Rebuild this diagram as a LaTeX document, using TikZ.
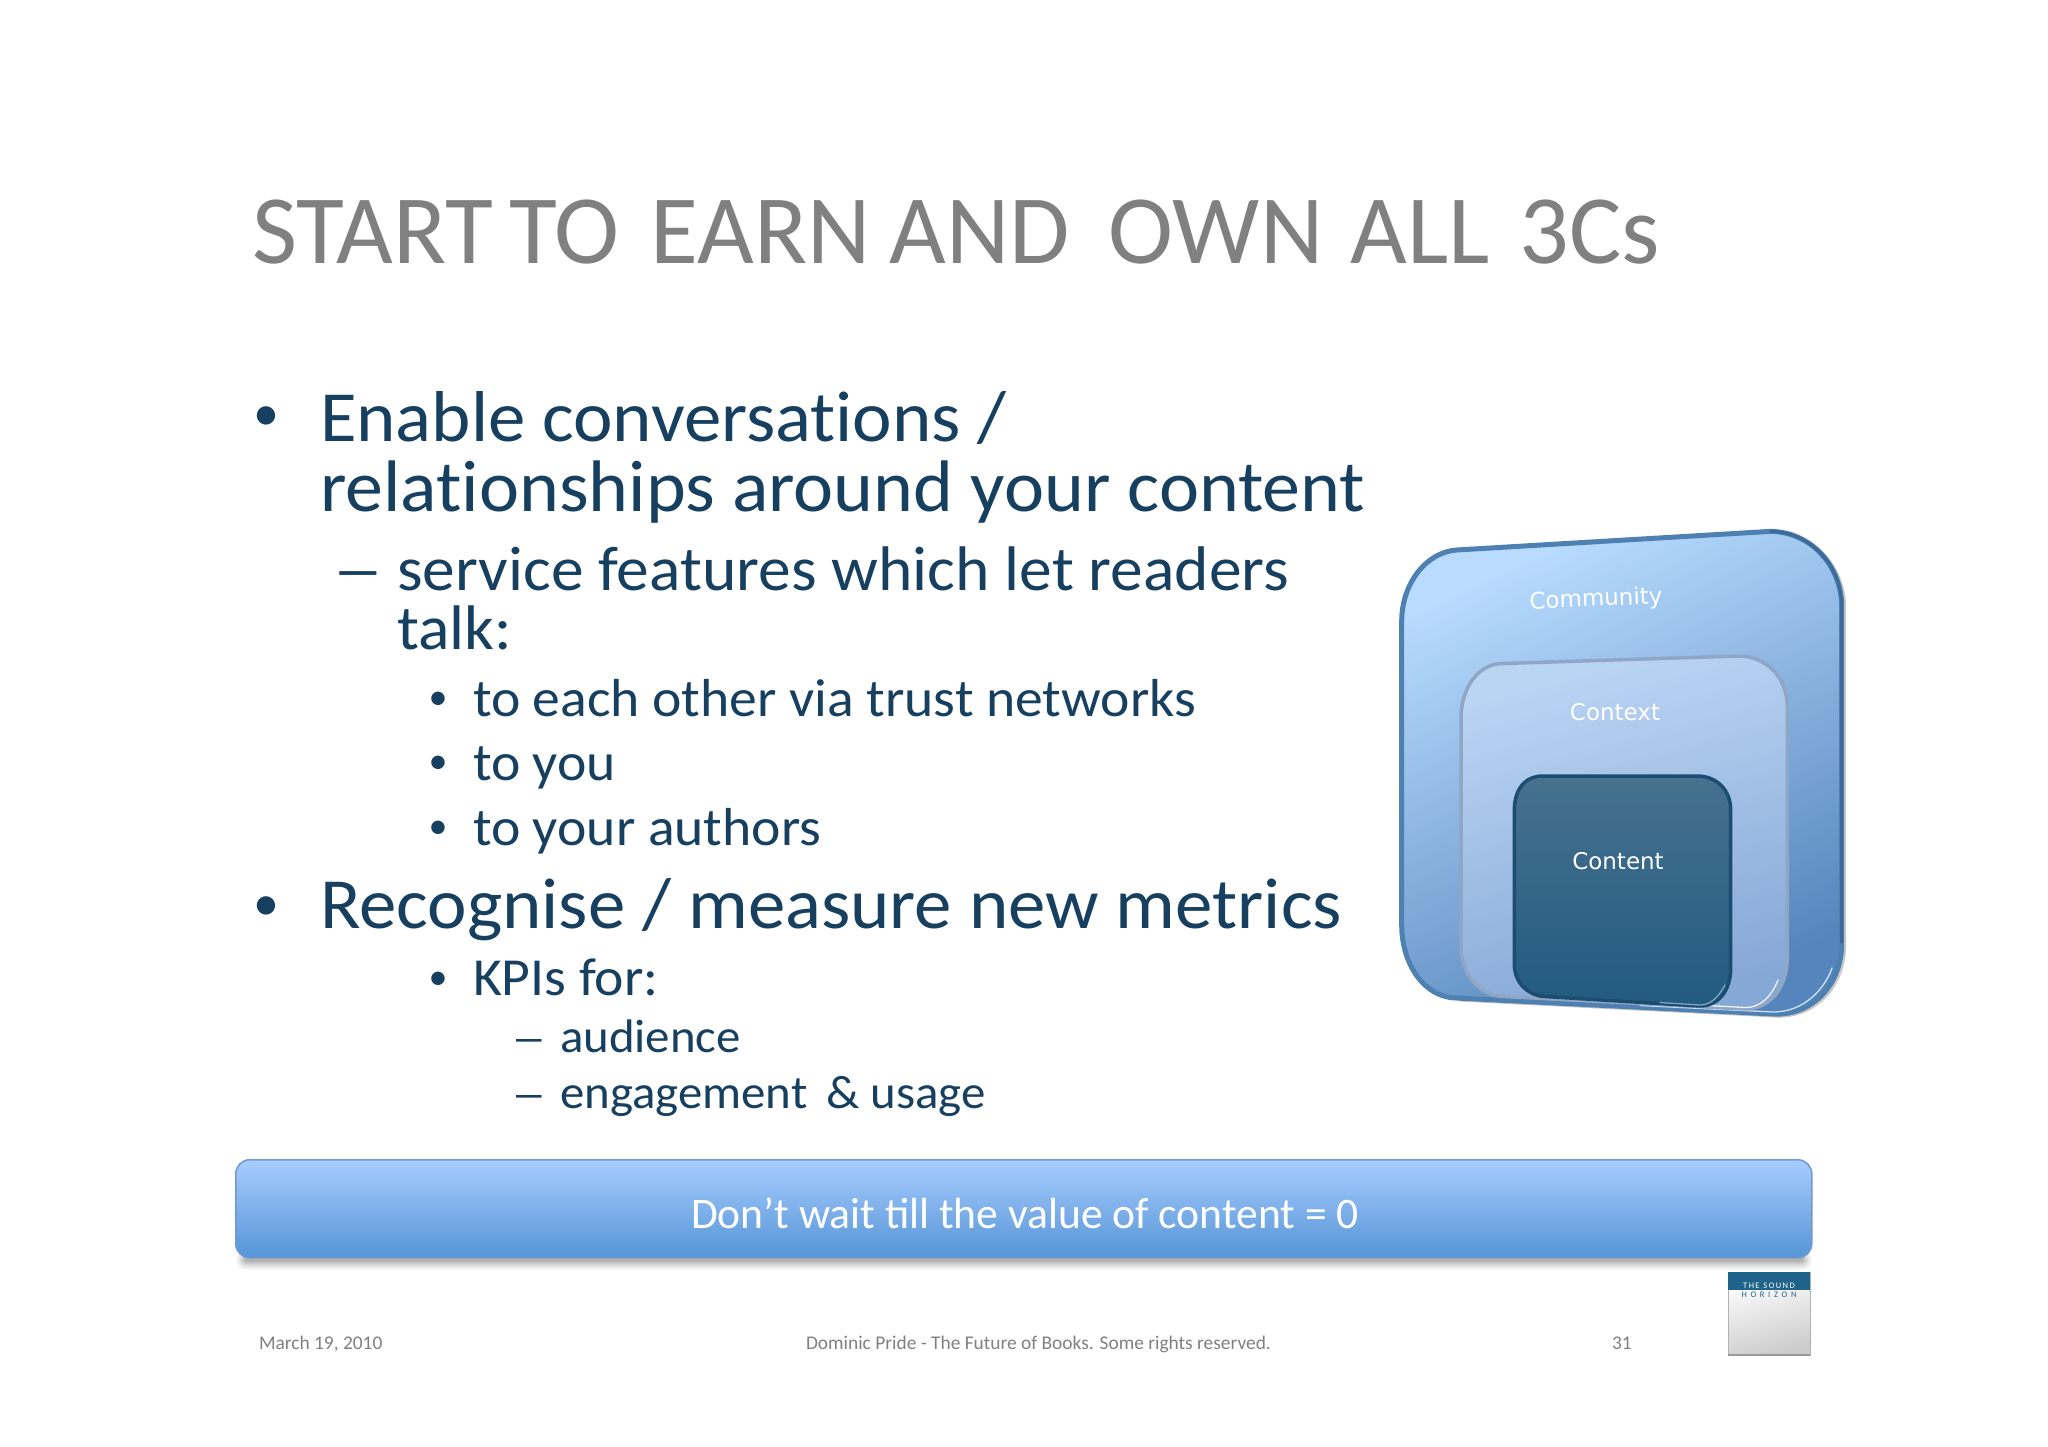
\documentclass[tikz,border=0pt]{standalone}
\usepackage{fontspec}
\setmainfont{Carlito}
\newfontfamily\labelfont{DejaVu Sans}
\newfontfamily\bodyfont[FakeStretch=1.04,Ligatures=CommonOff]{Carlito}
\newfontfamily\dashfont[FakeStretch=1.7]{Carlito}
\definecolor{bodyc}{HTML}{173F5F}
\definecolor{titlec}{HTML}{808080}
\definecolor{footc}{HTML}{808080}
\definecolor{ca}{HTML}{B8DBFE}\definecolor{cb}{HTML}{5585BC}
\definecolor{cc}{HTML}{BAD4F4}\definecolor{cd}{HTML}{86A8D6}
\definecolor{ce}{HTML}{46718F}\definecolor{cf}{HTML}{225A80}
\definecolor{ba}{HTML}{A8CCFF}\definecolor{bb}{HTML}{5595D6}
\definecolor{logoc}{HTML}{1F6488}
\definecolor{rimA}{HTML}{4F80B2}
\definecolor{rimAd}{HTML}{3C6A98}
\definecolor{rimB}{HTML}{8FA6C6}
\definecolor{rimC}{HTML}{1C4C70}
\definecolor{glow}{HTML}{CBE4FB}
\newcommand{\fs}[1]{\fontsize{#1}{#1}\selectfont}
\newcommand{\ringA}{(1401.7,621) .. controls (1401.7,584) and (1426,552) .. (1456.7,550) -- (1770,531.4)
  .. controls (1810,531.4) and (1841.7,565) .. (1841.7,607) -- (1841.7,943)
  .. controls (1841.7,985) and (1812,1016) .. (1773,1014) -- (1456.7,998)
  .. controls (1425,998) and (1401.7,965) .. (1401.7,925) -- cycle}
\newcommand{\ringB}{(1461,718) .. controls (1461,688) and (1478,665) .. (1500,663.6) -- (1738.3,656)
  .. controls (1766,656) and (1787.3,677) .. (1787.3,707) -- (1787.3,957)
  .. controls (1787.3,988) and (1770,1009) .. (1745,1009) -- (1503.3,996.4)
  .. controls (1480,996) and (1461,975) .. (1461,946) -- cycle}
\newcommand{\ringC}{(1514.3,810.7) .. controls (1514.3,789) and (1525,776) .. (1543.3,776) -- (1696.7,776)
  .. controls (1716,776) and (1730.7,789) .. (1730.7,810.7) -- (1730.7,968)
  .. controls (1730.7,991) and (1718,1006) .. (1700,1006) -- (1543.3,996.4)
  .. controls (1527,995) and (1514.3,982) .. (1514.3,964) -- cycle}
\tikzset{
  x=1pt,y=-1pt,
  txt/.style={inner sep=0pt,outer sep=0pt,anchor=base west,text=bodyc},
  lva/.style={txt,font=\bodyfont\fs{73}},
  lvas/.style={txt,font=\bodyfont\fs{72}},
  lvb/.style={txt,font=\bodyfont\fs{63}},
  lvc/.style={txt,font=\bodyfont\fs{53.5}},
  lvd/.style={txt,font=\bodyfont\fs{47}},
  bula/.style={txt,font=\fs{52}},
  bulc/.style={txt,font=\fs{38}},
  dasha/.style={txt,font=\dashfont\fs{61}},
  dashb/.style={txt,font=\dashfont\fs{42}},
  foot/.style={inner sep=0pt,outer sep=0pt,anchor=base west,text=footc,font=\fs{19.4}},
  ringtxt/.style={inner sep=0pt,outer sep=0pt,anchor=center,text=white,font=\labelfont\fs{23}},
  logotxt/.style={inner sep=0pt,font=\fs{8.5}},
}
\begin{document}
\begin{tikzpicture}
\useasboundingbox (0,0) rectangle (2048,1447);
\fill[white] (0,0) rectangle (2048,1447);
% title
\node[inner sep=0pt,anchor=base west,text=titlec,font=\fs{98}] (title) at (252,264) {START\hspace*{16pt}TO\hspace*{31.5pt}EARN\hspace*{19pt}AND\hspace*{39pt}OWN\hspace*{27pt}ALL\hspace*{30pt}3Cs};
% body
\node[bula] (b1) at (253.5,430) {•};
\node[lvas] (t1) at (320,441) {Enable conversations /};
\node[lva] (t2) at (320,511) {relationships around your content};
\node[dasha] (d1) at (332,590) {–};
\node[lvb] (t3) at (397,590) {service features which let readers};
\node[lvb] (t4) at (397,649) {talk:};
\node[bulc] (b2) at (428.7,709.8) {•};
\node[lvc] (t5) at (473,716) {to each other via trust networks};
\node[bulc] (b3) at (428.7,773.8) {•};
\node[lvc] (t6) at (473,780) {to you};
\node[bulc] (b4) at (428.7,838.8) {•};
\node[lvc] (t7) at (473,845) {to your authors};
\node[bula] (b5) at (253.5,920.4) {•};
\node[lvas] (t8) at (320,928) {Recognise / measure new metrics};
\node[bulc] (b6) at (428.7,989.8) {•};
\node[lvc] (t9) at (473,995) {KPIs for:};
\node[dashb] (d2) at (511.5,1052) {–};
\node[lvd] (t10) at (560,1052) {audience};
\node[dashb] (d3) at (511.5,1108) {–};
\node[lvd] (t11) at (560,1108) {engagement \,\& usage};
% rings
\draw[line width=4pt,black!22] ([shift={(2.5,1.5)}]1770,531.4) .. controls ([shift={(2.5,1.5)}]1810,531.4) and ([shift={(2.5,1.5)}]1841.7,565) .. ([shift={(2.5,1.5)}]1841.7,607) -- ([shift={(2.5,1.5)}]1841.7,943) .. controls ([shift={(2.5,1.5)}]1841.7,985) and ([shift={(2.5,1.5)}]1812,1016) .. ([shift={(2.5,1.5)}]1773,1014) -- ([shift={(2.5,1.5)}]1456.7,998);
\shade[top color=ca,bottom color=cb,shading angle=25] \ringA;
\draw[line width=5pt,color=rimA] \ringA;
\draw[line width=3pt,color=rimAd] (1770,531.4) .. controls (1810,531.4) and (1841.7,565) .. (1841.7,607) -- (1841.7,943);
\draw[line width=1.3pt,line cap=round,color=glow] (1832,968) .. controls (1825,988) and (1805,1012) .. (1773,1012) -- (1640,1005.5);
\shade[top color=cc,bottom color=cd,shading angle=15] \ringB;
\draw[line width=3.5pt,color=rimB] \ringB;
\draw[line width=1.3pt,line cap=round,color=white!75!cc] (1778,980) .. controls (1772,995) and (1762,1007.5) .. (1745,1007.5) -- (1680,1004);
\shade[top color=ce,bottom color=cf] \ringC;
\draw[line width=3.5pt,color=rimC] \ringC;
\draw[line width=1.3pt,line cap=round,color=glow!55!cf] (1725,985) .. controls (1718,998) and (1710,1005) .. (1700,1005) -- (1660,1002.5);
\node[ringtxt,rotate=2.5] (community) at (1596,600) {Community};
\node[ringtxt] (context) at (1615,712) {Context};
\node[ringtxt] (content) at (1618,861) {Content};
% bar
\foreach \o/\w in {0.04/20,0.05/16,0.06/12,0.08/8,0.10/4}
  \draw[line width=\w pt,color=black,opacity=\o,line join=round] (248,1256) -- (1800,1256) -- (1802,1260) -- (246,1260) -- cycle;
\node[draw=ba!30!cb,line width=1.5pt,rounded corners=14pt,top color=ba,bottom color=bb,minimum width=1576pt,minimum height=98pt,inner sep=0pt,anchor=north west] (bar) at (235,1159) {};
\node[inner sep=0pt,anchor=base,text=white,font=\fs{43.6}] (bartxt) at (1025,1228) {Don’t wait till the value of content = 0};
% footer
\node[foot] (f1) at (259,1349) {March 19, 2010};
\node[foot] (f2) at (806,1349) {Dominic Pride - The Future of Books. Some rights reserved.};
\node[foot] (f3) at (1612,1349) {31};
% logo
\shade[top color=white,bottom color=black!20,shading angle=15] (1728,1272) rectangle (1810,1355);
\draw[black!30,line width=.7pt] (1728,1272) rectangle (1810,1355);
\draw[black!40,line width=1.2pt] (1728,1355) -- (1810,1355);
\fill[logoc] (1728,1272) rectangle (1810,1290);
\node[logotxt,text=white] (l1) at (1769,1286) {T\,H\,E\ \ S\,O\,U\,N\,D};
\node[logotxt,text=logoc] (l2) at (1769,1295) {H\hspace{3.7pt}O\hspace{3.7pt}R\hspace{3.7pt}I\hspace{3.7pt}Z\hspace{3.7pt}O\hspace{3.7pt}N};
\end{tikzpicture}
\end{document}
